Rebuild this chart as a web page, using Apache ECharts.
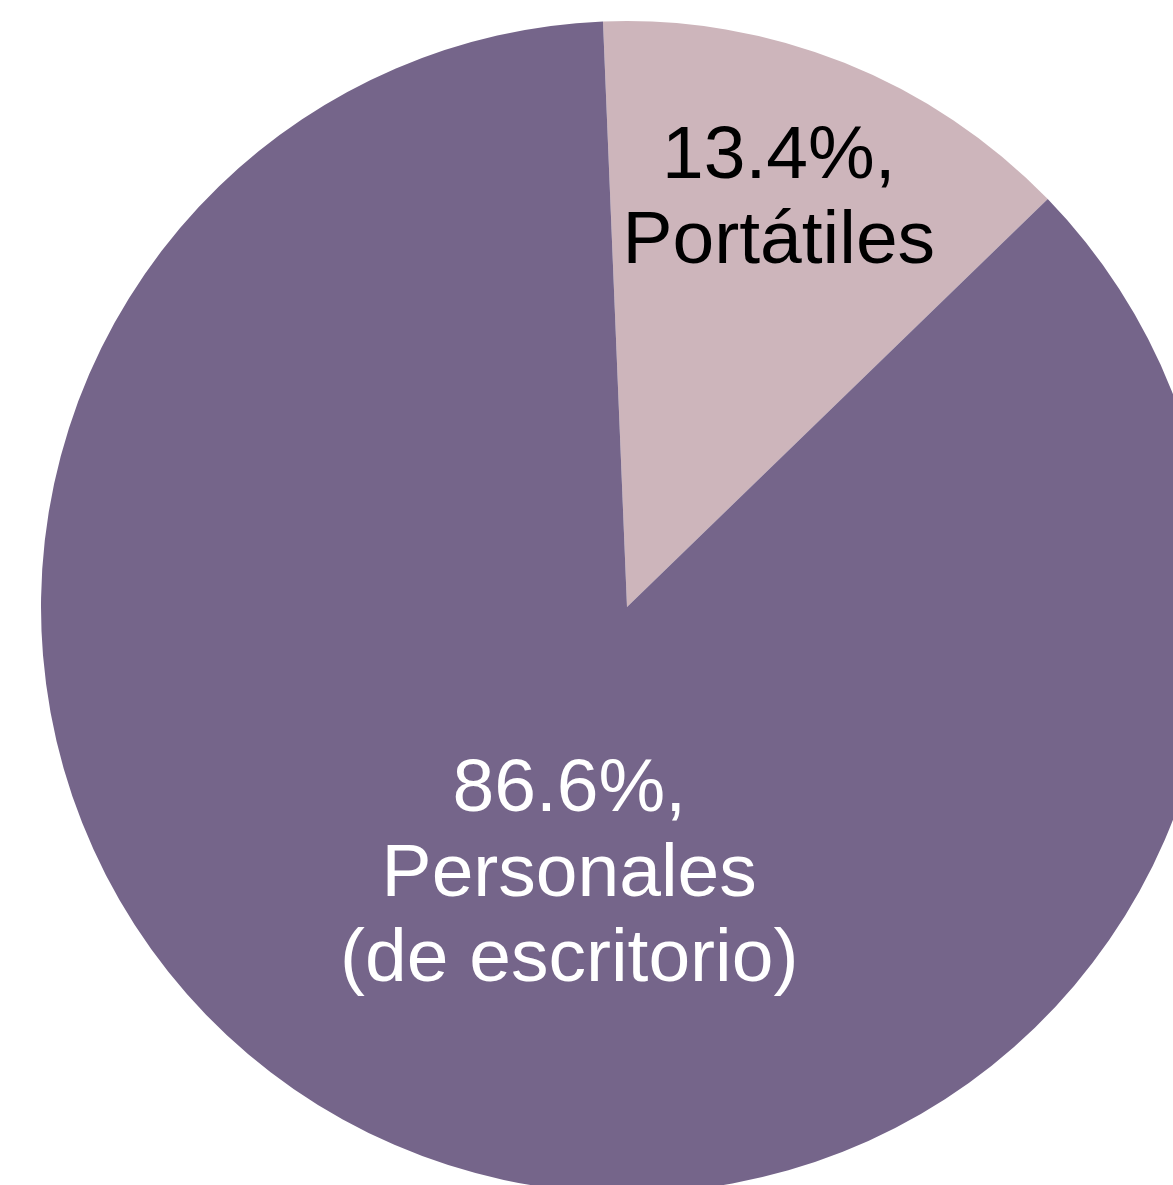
<!DOCTYPE html>
<html>
<head>
<meta charset="utf-8">
<script src="https://cdn.jsdelivr.net/npm/echarts@6/dist/echarts.min.js"></script>
<style>
html,body{margin:0;padding:0;background:#fff;}
#chart{width:1173px;height:1185px;}
</style>
</head>
<body>
<div id="chart"></div>
<script>
const categories = ['Portátiles', 'Personales\n(de escritorio)'];
const values = [13.4, 86.6];
const colors = ['#CDB5BB', '#75658A'];
const labelColors = ['#000000', '#ffffff'];
const labelOffsets = [[42, -132], [52, -7]];

const chart = echarts.init(document.getElementById('chart'));
chart.setOption({
  animation: false,
  series: [{
    type: 'pie',
    center: [627, 607],
    radius: [0, 586],
    startAngle: 92.35,
    clockwise: true,
    avoidLabelOverlap: false,
    itemStyle: { borderWidth: 0 },
    emphasis: { disabled: true },
    label: {
      show: true,
      position: 'inside',
      fontFamily: 'Liberation Sans, Arial, sans-serif',
      fontSize: 75,
      lineHeight: 85,
      formatter: p => p.value.toFixed(1) + '%,\n' + p.name
    },
    labelLine: { show: false },
    data: categories.map((c, i) => ({
      name: c,
      value: values[i],
      itemStyle: { color: colors[i] },
      label: { color: labelColors[i], offset: labelOffsets[i] }
    }))
  }]
});
</script>
</body>
</html>
